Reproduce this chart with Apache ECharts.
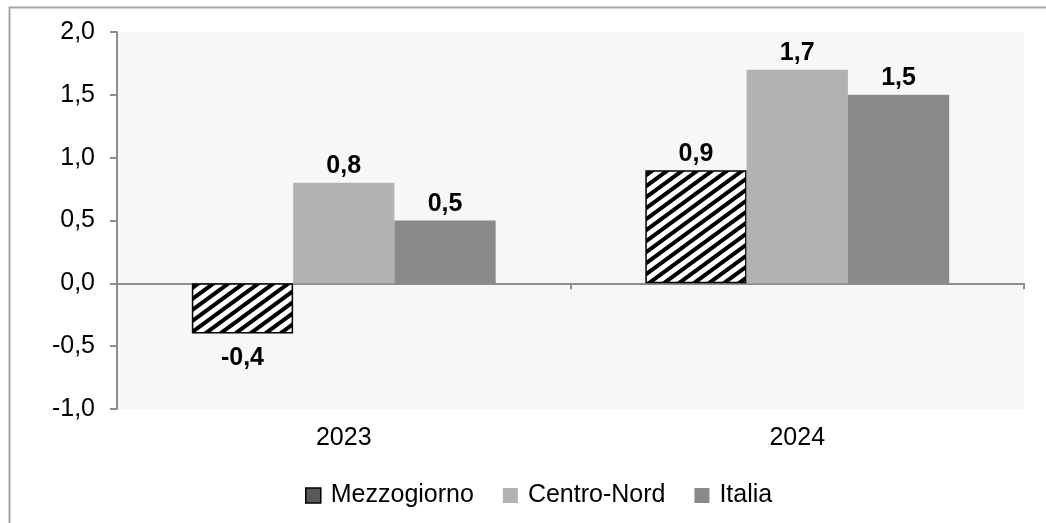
<!DOCTYPE html>
<html>
<head>
<meta charset="utf-8">
<script src="https://cdn.jsdelivr.net/npm/echarts@6/dist/echarts.min.js"></script>
<style>html,body{margin:0;padding:0;background:#fff;}#c{width:1046px;height:523px;}</style>
</head>
<body>
<div id="c"></div>
<script>
const categories = ['2023', '2024'];
const seriesNames = ['Mezzogiorno', 'Centro-Nord', 'Italia'];
const mezzogiorno = [-0.4, 0.9];
const centroNord = [0.8, 1.7];
const italia = [0.5, 1.5];
const yTicks = [-1.0, -0.5, 0.0, 0.5, 1.0, 1.5, 2.0];

function fmt(v) { return Number(v).toFixed(1).replace('.', ','); }

// hatch pattern
const W = 15, H = 11;
const cv = document.createElement('canvas');
cv.width = W; cv.height = H;
const ctx = cv.getContext('2d');
ctx.fillStyle = '#fff'; ctx.fillRect(0, 0, W, H);
ctx.strokeStyle = '#000'; ctx.lineWidth = 4;
for (let k = 0; k <= 2; k++) {
  ctx.beginPath();
  ctx.moveTo(-W, k * H + H);
  ctx.lineTo(2 * W, k * H - 2 * H);
  ctx.stroke();
}

const FONT = 'Liberation Sans, Arial, sans-serif';
const chart = echarts.init(document.getElementById('c'), null, { renderer: 'canvas' });

const labelFont = { fontFamily: FONT, fontSize: 25, fontWeight: 'bold', color: '#000' };

function mkData(arr) {
  return arr.map(v => v < 0 ? { value: v, label: { position: 'bottom', distance: 12 } } : v);
}

chart.setOption({
  animation: false,
  backgroundColor: '#fff',
  textStyle: { fontFamily: FONT },
  graphic: [{
    type: 'rect', left: 7, top: 5, z: -10,
    shape: { x: 0, y: 0, width: 1100, height: 600 },
    style: { fill: 'none', stroke: '#a6a6a6', lineWidth: 2 }
  }],
  grid: { left: 117, right: 22, top: 32, bottom: 114, show: true, backgroundColor: '#f7f7f7', borderWidth: 0 },
  legend: {
    left: 300, top: 478,
    itemWidth: 15, itemHeight: 15, itemGap: 29,
    textStyle: { fontSize: 25, color: '#000', fontFamily: FONT, padding: [0, 0, 0, 5] },
    data: [
      { name: 'Mezzogiorno', icon: 'rect', itemStyle: { color: '#595959', borderColor: '#000', borderWidth: 1.5 } },
      { name: 'Centro-Nord', icon: 'rect' },
      { name: 'Italia', icon: 'rect' }
    ]
  },
  xAxis: [{
    type: 'category', data: categories, position: 'bottom',
    axisLine: { show: false, onZero: false }, axisTick: { show: false },
    axisLabel: { fontSize: 25, color: '#000', margin: 17 }
  }, {
    type: 'category', data: categories, position: 'bottom',
    axisLine: { show: true, onZero: true, lineStyle: { color: '#8c8c8c', width: 2 } },
    axisTick: { show: true, length: 6, lineStyle: { color: '#8c8c8c', width: 2 } },
    axisLabel: { show: false }
  }],
  yAxis: {
    type: 'value', min: -1, max: 2, interval: 0.5,
    splitLine: { show: false },
    axisLine: { show: true, lineStyle: { color: '#8c8c8c', width: 2 } },
    axisTick: { show: true, length: 7, lineStyle: { color: '#8c8c8c', width: 2 } },
    axisLabel: { fontSize: 25, color: '#000', margin: 22, formatter: fmt }
  },
  series: [{
    name: 'Mezzogiorno', type: 'bar', data: mkData(mezzogiorno),
    barGap: '0%', barCategoryGap: '33%',
    itemStyle: { color: { image: cv, repeat: 'repeat' }, borderColor: '#000', borderWidth: 1.5 },
    label: Object.assign({ show: true, position: 'top', distance: 4, formatter: p => fmt(p.value) }, labelFont)
  }, {
    name: 'Centro-Nord', type: 'bar', data: mkData(centroNord),
    barGap: '0%', barCategoryGap: '33%',
    itemStyle: { color: '#b2b2b2' },
    label: Object.assign({ show: true, position: 'top', distance: 4, formatter: p => fmt(p.value) }, labelFont)
  }, {
    name: 'Italia', type: 'bar', data: mkData(italia),
    barGap: '0%', barCategoryGap: '33%',
    itemStyle: { color: '#8a8a8a' },
    label: Object.assign({ show: true, position: 'top', distance: 4, formatter: p => fmt(p.value) }, labelFont)
  }]
});
</script>
</body>
</html>
